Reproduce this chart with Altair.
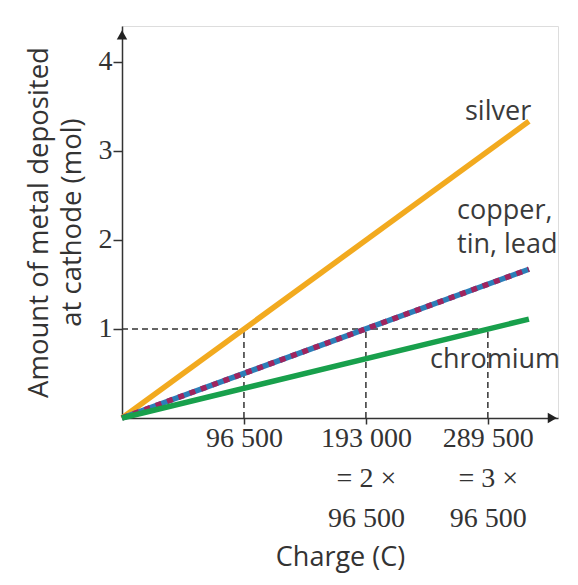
import altair as alt
import pandas as pd

# --- data ---
charge = [0, 322000]
silver = [0, 3.33]
copper = [0, 1.67]
chromium = [0, 1.11]

x_ticks = [96500, 193000, 289500]
y_ticks = [1, 2, 3, 4]

ref_x = [96500, 193000, 289500]
ref_y = 1

label_text = ["silver", "copper,\ntin, lead", "chromium"]
label_x = [271400, 265100, 243700]
label_y = [3.345, 2.23, 0.56]

XMAX = 345000
YMAX = 4.4

lines = pd.DataFrame({
    "charge": charge * 3,
    "mol": silver + copper + chromium,
    "metal": ["silver"] * 2 + ["copper"] * 2 + ["chromium"] * 2,
})

xs = alt.Scale(domain=[0, XMAX], nice=False, zero=True)
ys = alt.Scale(domain=[0, YMAX], nice=False, zero=True)

AXC = "#333333"

label_expr = (
    "datum.value == 96500 ? '96 500' : "
    "datum.value == 193000 ? ['193 000', '= 2 \u00d7', '96 500'] : "
    "['289 500', '= 3 \u00d7', '96 500']"
)

x_enc = alt.X(
    "charge:Q", scale=xs,
    axis=alt.Axis(
        values=x_ticks, labelExpr=label_expr, grid=False,
        title="Charge (C)", titleFont="Open Sans", titleFontSize=27,
        titleFontWeight="normal", titleColor=AXC, titlePadding=12,
        labelFont="Liberation Serif", labelFontSize=28, labelColor=AXC,
        labelLineHeight=40, labelPadding=0, tickSize=6, tickColor=AXC,
        tickWidth=1.5, domainColor=AXC, domainWidth=1.5,
        labelFlush=False, labelOverlap=False,
    ),
)
y_enc = alt.Y(
    "mol:Q", scale=ys,
    axis=alt.Axis(
        values=y_ticks, format="d", grid=False,
        title=["Amount of metal deposited", "at cathode (mol)"],
        titleFont="Open Sans", titleFontSize=27.5, titleFontWeight="normal",
        titleColor=AXC, titlePadding=12, titleLineHeight=33,
        labelFont="Liberation Serif", labelFontSize=28, labelColor=AXC,
        labelPadding=1, tickSize=9, tickColor=AXC, tickWidth=1.5,
        domainColor=AXC, domainWidth=1.5, labelFlush=False,
    ),
)

base = alt.Chart(lines)

# dashed guide lines
guides_df = pd.DataFrame({
    "x": [0] + ref_x,
    "x2": [ref_x[-1]] + ref_x,
    "y": [ref_y] + [0, 0, 0],
    "y2": [ref_y] + [ref_y] * 3,
})
guides = alt.Chart(guides_df).mark_rule(
    color=AXC, strokeDash=[6, 4], strokeWidth=1.5
).encode(
    x=alt.X("x:Q", scale=xs), x2="x2:Q",
    y=alt.Y("y:Q", scale=ys), y2="y2:Q",
)

silver_line = base.transform_filter(alt.datum.metal == "silver").mark_line(
    color="#F2AA1F", strokeWidth=5.5
).encode(x=x_enc, y=y_enc)
chrom_line = base.transform_filter(alt.datum.metal == "chromium").mark_line(
    color="#18A04C", strokeWidth=5.5
).encode(x=alt.X("charge:Q", scale=xs), y=alt.Y("mol:Q", scale=ys))
copper_blue = base.transform_filter(alt.datum.metal == "copper").mark_line(
    color="#2C7EB8", strokeWidth=5.5
).encode(x=alt.X("charge:Q", scale=xs), y=alt.Y("mol:Q", scale=ys))
copper_red = base.transform_filter(alt.datum.metal == "copper").mark_line(
    color="#A0245E", strokeWidth=5.5, strokeDash=[6, 6]
).encode(x=alt.X("charge:Q", scale=xs), y=alt.Y("mol:Q", scale=ys))

# arrows at axis ends
arrows_df = pd.DataFrame({
    "x": [0, 340500], "y": [4.30, 0], "shape": ["triangle-up", "triangle-right"]
})
arrows = alt.Chart(arrows_df).mark_point(
    filled=True, color="#222222", size=110, opacity=1
).encode(
    x=alt.X("x:Q", scale=xs), y=alt.Y("y:Q", scale=ys),
    shape=alt.Shape("shape:N", scale=None),
)

labels_df = pd.DataFrame({"t": label_text, "x": label_x, "y": label_y})
labels = alt.Chart(labels_df).mark_text(
    font="Open Sans", fontSize=27, color="#3a3a3a", align="left",
    baseline="alphabetic", lineBreak="\n", lineHeight=34,
).encode(
    x=alt.X("x:Q", scale=xs), y=alt.Y("y:Q", scale=ys), text="t:N"
)

chart = alt.layer(
    guides, silver_line, copper_blue, copper_red, chrom_line, arrows, labels
).properties(
    width=436, height=392,
    autosize=alt.AutoSizeParams(type="none"),
    padding={"left": 114, "top": 18, "right": 12, "bottom": 162},
).configure_view(stroke=None).configure(background="white")

chart.save("out.html", embed_options={"renderer": "svg", "actions": False})
